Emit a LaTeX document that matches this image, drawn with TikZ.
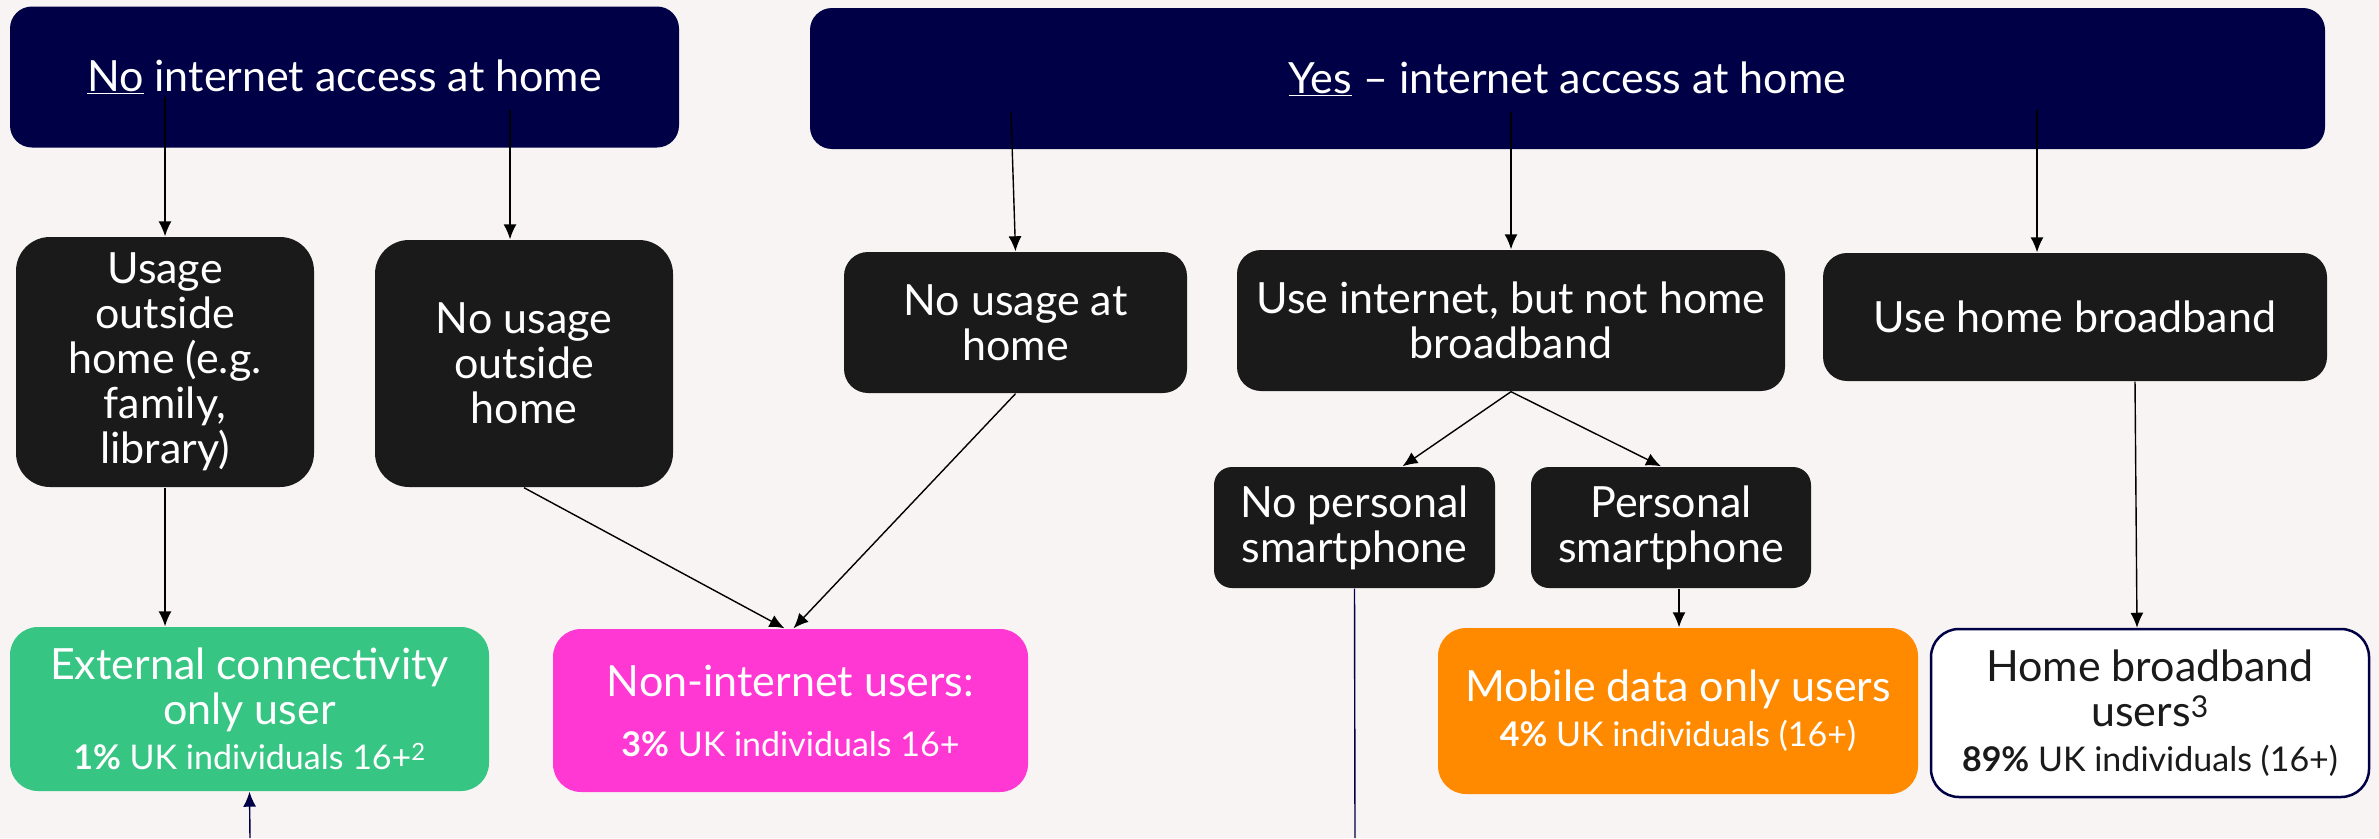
\documentclass[tikz,border=0pt]{standalone}
\usepackage{fontspec}
\setmainfont{Lato}
\usetikzlibrary{arrows.meta}
\definecolor{navy}{HTML}{000046}
\definecolor{boxblack}{HTML}{1A1A1A}
\definecolor{paper}{HTML}{F7F4F3}
\definecolor{ecgreen}{HTML}{37C584}
\definecolor{nipink}{HTML}{FF38D4}
\definecolor{mdorange}{HTML}{FF8A00}
\newcommand{\pctfont}{\fontsize{34}{40}\selectfont}
\begin{document}
\begin{tikzpicture}[x=1pt, y=-1pt, line width=1.4pt, >={Latex[length=15pt,width=13pt]},
    every node/.style={align=center, inner sep=0pt, text=white, font=\fontsize{43}{45}\selectfont},
    head/.style={fill=navy, rounded corners=22pt, minimum height=141pt},
    choice/.style={fill=boxblack, rounded corners=24pt},
    result/.style={rounded corners=28pt, minimum height=164pt}]{
    \fill [paper] (0,0) rectangle (2379,838);
    \useasboundingbox (0,0) rectangle (2379,838);
    \node [head, minimum width=669pt] (N) at (344.5,77) {\underline{No} internet access at home};
    \node [head, minimum width=1515pt] (Y) at (1567.5,78.5) {\underline{Yes} -- internet access at home};
    \node [choice, rounded corners=34pt, minimum width=298pt, minimum height=250pt] (UO) at (165,362) {Usage\\outside\\home (e.g.\\family,\\library)};
    \node [choice, rounded corners=34pt, minimum width=298pt, minimum height=247pt] (NO) at (524,363.5) {No usage\\outside\\home};
    \node [choice, minimum width=343pt, minimum height=141pt] (NH) at (1015.5,322.5) {No usage at\\home};
    \node [choice, minimum width=548pt, minimum height=141pt] (UI) at (1511,320.5) {Use internet, but not home\\broadband};
    \node [choice, minimum width=504pt, minimum height=128pt] (HB) at (2075,317) {Use home broadband};
    \node [choice, rounded corners=18pt, minimum width=281pt, minimum height=121pt] (NP) at (1354.5,527.5) {No personal\\smartphone};
    \node [choice, rounded corners=18pt, minimum width=280pt, minimum height=121pt] (PS) at (1671,527.5) {Personal\\smartphone};
    \node [result, fill=ecgreen, minimum width=479pt] (EC) at (249.5,709) {External connectivity\\only user\\{\pctfont\textbf{1\%} UK individuals 16+\textsuperscript{2}}};
    \node [result, fill=nipink, minimum width=475pt, minimum height=163pt] (NI) at (790.5,710.5) {Non-internet users:\\[15pt]{\pctfont\textbf{3\%} UK individuals 16+}};
    \node [result, fill=mdorange, minimum width=480pt, minimum height=166pt] (MD) at (1678,711) {Mobile data only users\\{\pctfont\textbf{4\%} UK individuals (16+)}};
    \node [result, fill=white, draw=navy, line width=2.5pt, text=boxblack, minimum width=438pt, minimum height=168pt] (BB) at (2150,713) {Home broadband\\users\textsuperscript{3}\\{\pctfont\textbf{89\%} UK individuals (16+)}};
    \coordinate (N1) at (165,97);
    \coordinate (N2) at (510,110);
    \coordinate (Y1) at (1011,112);
    \coordinate (Y2) at (1511,112);
    \coordinate (Y3) at (2037,110);
    \coordinate (NPend) at (1355,838);
    \coordinate (ECin) at (250,838);
    \path [->] (N1) edge (N1 |- UO.north);
    \path [->] (N2) edge (N2 |- NO.north);
    \path [->] (Y1) edge (NH.north);
    \path [->] (Y2) edge (UI.north);
    \path [->] (Y3) edge (Y3 |- HB.north);
    \path [->] (UO.south) edge (UO.south |- EC.north);
    \path [->] (NO.south) edge ([xshift=-6pt]NI.north);
    \path [->] (NH.south) edge ([xshift=3pt]NI.north);
    \path [->] (UI.south) edge ([xshift=48pt]NP.north);
    \path [->] (UI.south) edge ([xshift=-10pt]PS.north);
    \path [->] ([xshift=8pt]PS.south) edge ([xshift=8pt]PS.south |- MD.north);
    \path [->] ([xshift=60pt]HB.south) edge ([xshift=-13pt]BB.north);
    \path [navy] (NP.south) edge (NPend);
    \path [->, navy] (ECin) edge (EC.south);
    }
\end{tikzpicture}
\end{document}
